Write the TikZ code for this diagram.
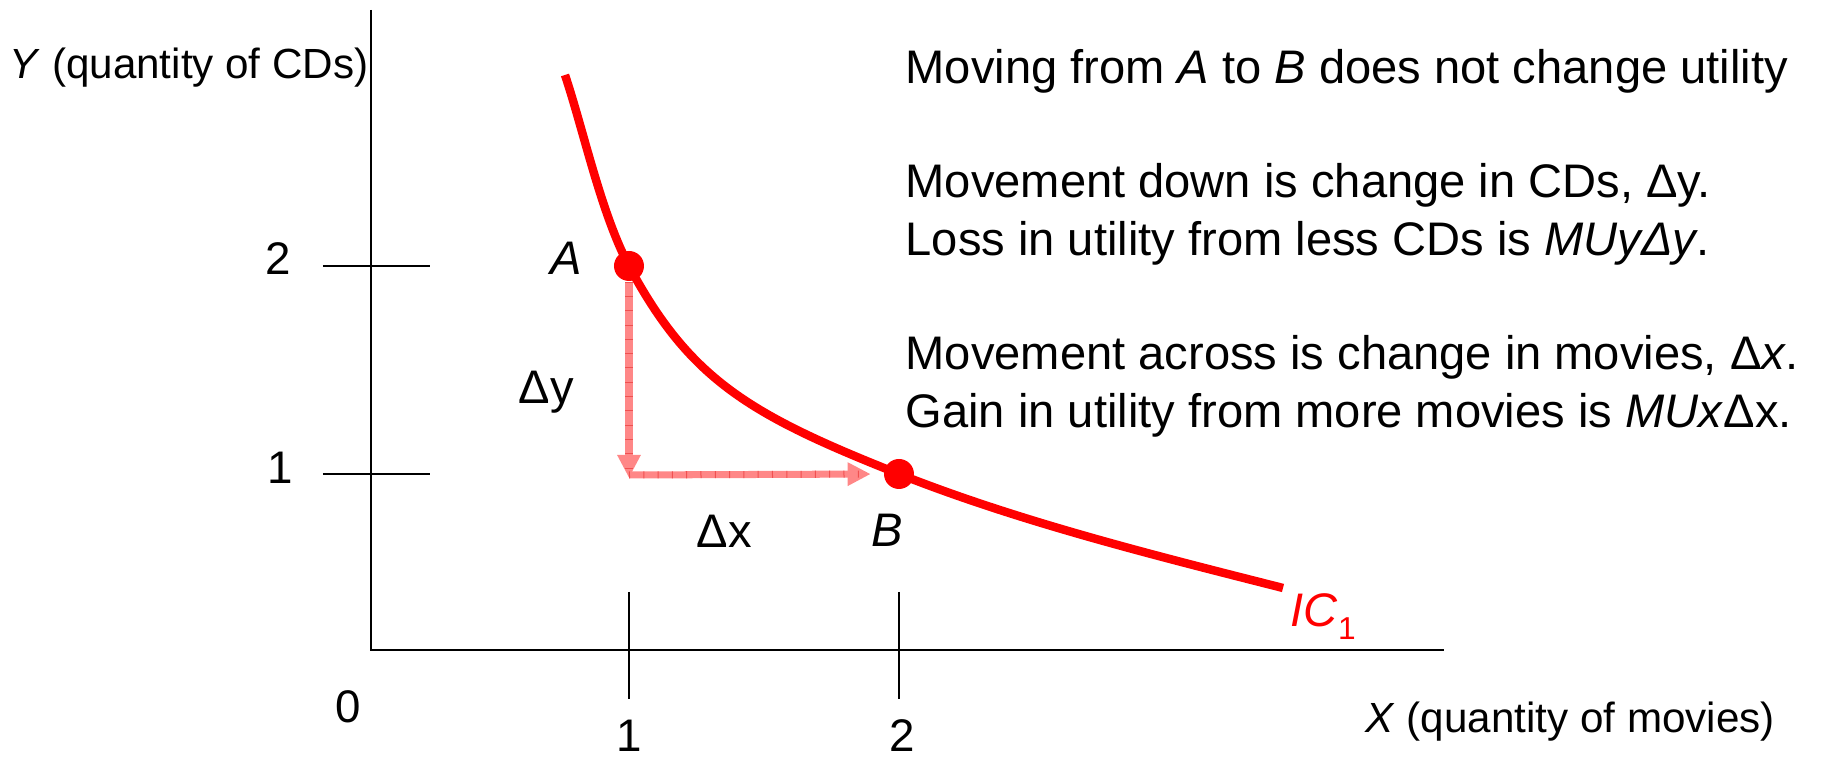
\documentclass[tikz,border=0pt]{standalone}
\usepackage{fontspec}
\setmainfont{Liberation Sans}
\usetikzlibrary{arrows.meta}
\definecolor{movepink}{RGB}{255,135,135}
\definecolor{moveline}{RGB}{240,80,80}
\pgfdeclarelayer{bg}
\pgfsetlayers{bg,main}
\tikzset{
    axisline/.style={draw, line width=0.5pt},
    ptdot/.style={circle, fill=red, minimum size=3mm, inner sep=0pt},
    lbl/.style={font=\fontsize{13.4}{16}\selectfont, inner sep=0pt},
    numlbl/.style={font=\fontsize{13}{16}\selectfont, inner sep=0pt},
    axlbl/.style={font=\fontsize{12}{14}\selectfont, inner sep=0pt},
    notes/.style={font=\fontsize{13.4}{16}\selectfont, inner sep=0pt, anchor=base west},
    icline/.style={draw=red, line width=2.4pt},
    movearrow/.style={draw=movepink, line width=2pt, -{Triangle[length=2.3mm, width=2.2mm]},
        postaction={draw=moveline, line width=2pt, dash pattern=on 0.1mm off 1.33mm, arrows=-}},
}
\begin{document}
\begin{tikzpicture}
    \useasboundingbox (-3.71,-1.10) rectangle (14.55,6.50);
    % axes and ticks
    \coordinate (O) at (0,0);
    \coordinate (ytop) at (0,6.40);
    \coordinate (xend) at (10.73,0);
    \draw[axisline] (ytop) -- (O) -- (xend);
    \draw[axisline] (-0.48,3.84) -- (0.59,3.84);
    \draw[axisline] (-0.48,1.76) -- (0.59,1.76);
    \draw[axisline] (2.58,0.58) -- (2.58,-0.49);
    \draw[axisline] (5.28,0.58) -- (5.28,-0.49);
    \node[numlbl, anchor=base] (y2) at (-0.93,3.75) {2};
    \node[numlbl, anchor=base] (y1) at (-0.91,1.66) {1};
    \node[numlbl, anchor=base] (x1) at (2.58,-1.02) {1};
    \node[numlbl, anchor=base] (x2) at (5.31,-1.02) {2};
    \node[numlbl, anchor=base] (zero) at (-0.23,-0.73) {0};
    \node[axlbl, anchor=base west] (ylab) at (-3.62,5.71) {\textit{Y} (quantity of CDs)};
    \node[axlbl, anchor=base west] (xlab) at (9.94,-0.83) {\textit{X} (quantity of movies)};

    % bundles A and B on the curve
    \node[ptdot] (A) at (2.58,3.84) {};
    \node[ptdot] (B) at (5.28,1.76) {};
    \coordinate (corner) at (2.58,1.75);
    \coordinate (ic0) at (1.94,5.75);
    \coordinate (ic1) at (9.12,0.62);
    \draw[icline] (ic0) .. controls (2.13,5.18) and (2.30,4.37) .. (A.center)
        .. controls (3.19,2.70) and (3.79,2.35) .. (B.center)
        .. controls (6.49,1.28) and (7.86,0.94) .. (ic1);
    \begin{pgfonlayer}{bg}
        \draw[movearrow, shorten >=-0.3mm] (A.south) -- (corner);
        \draw[movearrow, shorten >=1.26mm] (corner) -- (B.west);
    \end{pgfonlayer}

    \node[lbl, anchor=base] (Alab) at (1.95,3.75) {\textit{A}};
    \node[lbl, anchor=base] (Blab) at (5.165,1.03) {\textit{B}};
    \node[lbl, anchor=base] (dy) at (1.755,2.467) {Δy};
    \node[lbl, anchor=base] (dx) at (3.535,1.02) {Δx};
    \node[lbl, anchor=base west, text=red] (ic) at (9.19,0.233)
        {\textit{IC}\raisebox{-1.3mm}{\fontsize{9}{10}\selectfont 1}};

    % explanation
    \node[notes] (n1) at (5.34,5.667) {Moving from \textit{A} to \textit{B} does not change utility};
    \node[notes] (n2) at (5.34,4.52) {Movement down is change in CDs, Δy.};
    \node[notes] (n3) at (5.34,3.948) {Loss in utility from less CDs is \textit{MUyΔy}.};
    \node[notes] (n4) at (5.34,2.802) {Movement across is change in movies, Δ\textit{x}.};
    \node[notes] (n5) at (5.34,2.229) {Gain in utility from more movies is \textit{MUx}Δx.};
\end{tikzpicture}
\end{document}
